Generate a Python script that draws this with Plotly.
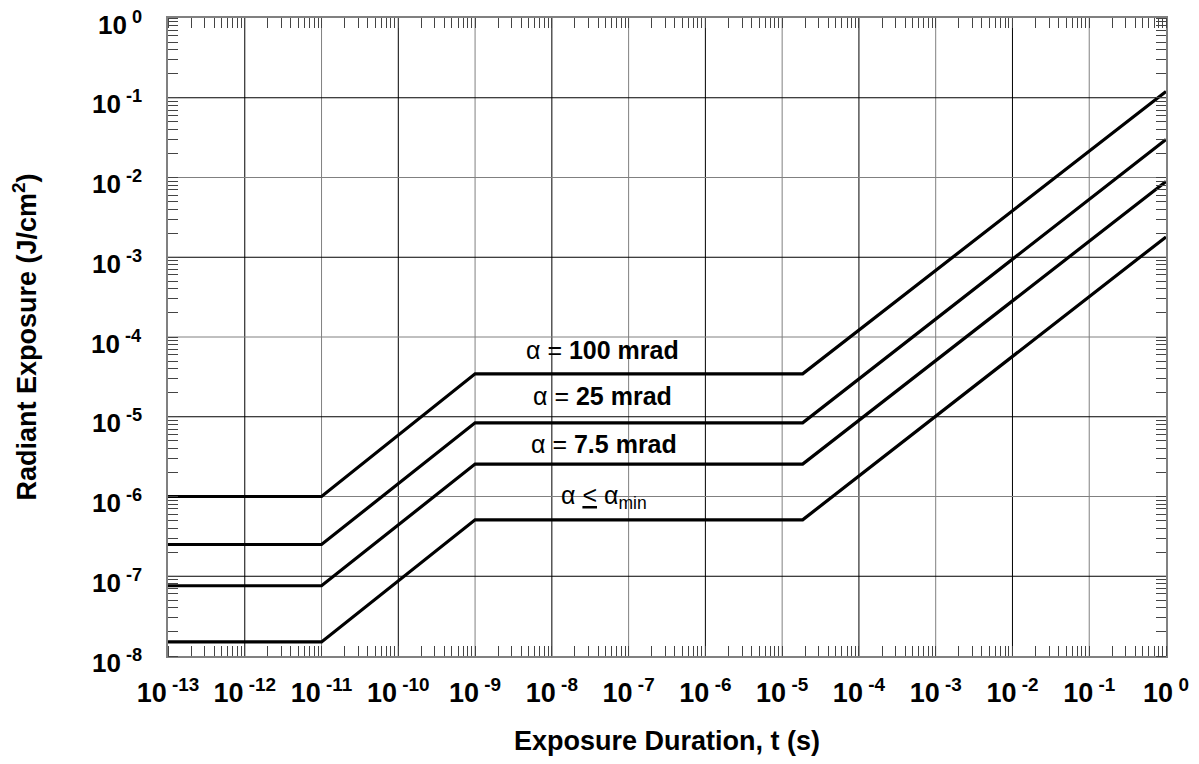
import numpy as np
import plotly.graph_objects as go

# Breakpoints of each curve (exposure duration in s)
t_points = [1e-13, 1e-11, 1e-9, 1.85e-5, 1.0]

series_names = ["α = 100 mrad", "α = 25 mrad", "α = 7.5 mrad", "α ≤ α_min"]
h_100 = [1.0e-6, 1.0e-6, 3.45e-5, 3.45e-5, 0.12]
h_25 = [2.5e-7, 2.5e-7, 8.4e-6, 8.4e-6, 0.030]
h_7_5 = [7.6e-8, 7.6e-8, 2.55e-6, 2.55e-6, 0.0089]
h_min = [1.5e-8, 1.5e-8, 5.1e-7, 5.1e-7, 0.0018]
series_values = [h_100, h_25, h_7_5, h_min]

x_exps = list(range(-13, 1))
y_exps = list(range(-8, 1))
x_ticktext = [f"10<sup> {e}</sup>" for e in x_exps]
y_ticktext = [f"10<sup> {e}</sup>" for e in y_exps]

label_text = ["α = <b>100 mrad</b>", "α = <b>25 mrad</b>", "α = <b>7.5 mrad</b>",
              "α <u>&lt;</u> α<sub>min</sub>"]
label_t = [4.6e-8, 4.6e-8, 4.8e-8, 4.8e-8]
label_h = [6.9e-5, 1.8e-5, 4.5e-6, 1.0e-6]

FONT = "Liberation Sans, Arial, sans-serif"

fig = go.Figure()
for name, vals in zip(series_names, series_values):
    fig.add_trace(go.Scatter(x=t_points, y=vals, mode="lines", name=name,
                             line=dict(color="black", width=3.2), showlegend=False))

for txt, tx, hy in zip(label_text, label_t, label_h):
    fig.add_annotation(x=np.log10(tx), y=np.log10(hy), xref="x", yref="y", text=txt,
                       showarrow=False, font=dict(family=FONT, size=25, color="black"))

# y tick labels (drawn as annotations so they can sit slightly below their grid line)
for e, txt in zip(y_exps, y_ticktext):
    fig.add_annotation(x=0, xref="paper", xanchor="right", xshift=-24,
                       y=e, yref="y", yanchor="middle", yshift=-5, text=txt,
                       showarrow=False,
                       font=dict(family=FONT, size=26, color="black", weight="bold"))

# decade grid lines, alternating black / gray as in the original
for e in x_exps[1:-1]:
    f = (e - x_exps[0]) / (x_exps[-1] - x_exps[0])
    fig.add_shape(type="line", xref="x domain", yref="y domain", x0=f, x1=f, y0=0, y1=1,
                  line=dict(color="#000000" if e % 2 == 0 else "#808080", width=1),
                  layer="below")
for e in y_exps[1:-1]:
    f = (e - y_exps[0]) / (y_exps[-1] - y_exps[0])
    fig.add_shape(type="line", xref="x domain", yref="y domain", x0=0, x1=1, y0=f, y1=f,
                  line=dict(color="#000000" if e % 2 != 0 else "#808080", width=1),
                  layer="below")

axis_common = dict(
    type="log", showline=True, linecolor="#808080", linewidth=2, mirror="ticks",
    showgrid=False, ticks="", zeroline=False,
    automargin=False, ticklabeloverflow="allow",
    tickfont=dict(family=FONT, size=27, color="black", weight="bold"),
    minor=dict(ticks="inside", ticklen=10, tickcolor="#444", tickwidth=1,
               showgrid=False, dtick="D1"),
)

fig.update_xaxes(**axis_common, range=[-13, 0], tickvals=[10.0**e for e in x_exps],
                 ticktext=x_ticktext, ticklabelstandoff=12,
                 title=dict(text="Exposure Duration, t (s)", standoff=28,
                            font=dict(family=FONT, size=27, color="black", weight="bold")))
fig.update_yaxes(**axis_common, range=[-8, 0], tickvals=[10.0**e for e in y_exps],
                 ticktext=y_ticktext, showticklabels=False,
                 title=dict(text="Radiant Exposure (J/cm<sup>2</sup>)", standoff=126,
                            font=dict(family=FONT, size=27, color="black", weight="bold")))

# page body adds an 8px margin around the figure
fig.update_layout(width=1183, height=748, margin=dict(l=160, r=25, t=10, b=100),
                  plot_bgcolor="white", paper_bgcolor="white")

fig.write_html("out.html")
